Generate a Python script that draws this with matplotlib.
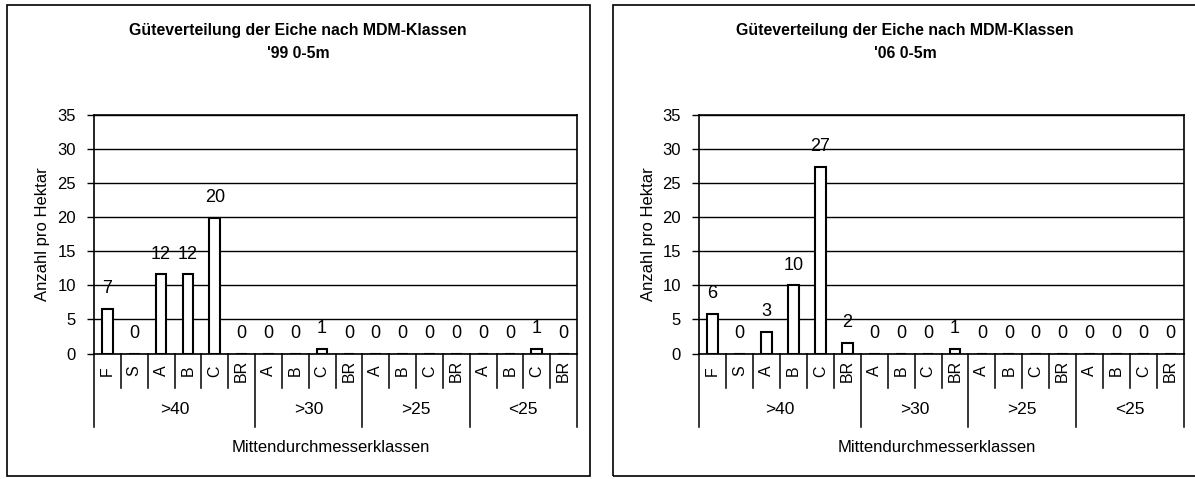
import numpy as np
import matplotlib
matplotlib.use('Agg')
import matplotlib.pyplot as plt
from matplotlib import font_manager
from matplotlib.patches import Rectangle

# Schriften: schmale Arial-Variante wenn vorhanden
names = {f.name for f in font_manager.fontManager.ttflist}
narrow = 'Liberation Sans Narrow' if 'Liberation Sans Narrow' in names else 'Liberation Sans'
plt.rcParams['font.family'] = [narrow, 'DejaVu Sans']

# Daten
title = 'Güteverteilung der Eiche nach MDM-Klassen'
subtitles = ["'99 0-5m", "'06 0-5m"]
groups = ['>40', '>30', '>25', '<25']
group_cats = [['F', 'S', 'A', 'B', 'C', 'BR'],
              ['A', 'B', 'C', 'BR'],
              ['A', 'B', 'C', 'BR'],
              ['A', 'B', 'C', 'BR']]
categories = [c for g in group_cats for c in g]

vals_99 = [6.6, 0, 11.6, 11.6, 19.9, 0,
           0, 0, 0.7, 0,
           0, 0, 0, 0,
           0, 0, 0.7, 0]
vals_06 = [5.8, 0, 3.2, 10.0, 27.4, 1.6,
           0, 0, 0, 0.7,
           0, 0, 0, 0,
           0, 0, 0, 0]

W, H = 1195, 479
fig = plt.figure(figsize=(W / 100, H / 100), dpi=100)


def fx(px):
    return px / W


def fy(py):
    return 1 - py / H


def panel(values, subtitle, ax_left, ax_right, box_l, box_r, title_x):
    # Rahmen um das Diagramm
    fig.patches.append(Rectangle((fx(box_l), fy(476)), fx(box_r - box_l), (476 - 5) / H,
                                 transform=fig.transFigure, fill=False,
                                 edgecolor='black', linewidth=1.2))
    fig.text(fx(title_x), fy(31), title, ha='center', va='center',
             fontsize=11.4, fontweight='bold', family=['Liberation Sans', 'DejaVu Sans'])
    fig.text(fx(title_x), fy(53), subtitle, ha='center', va='center',
             fontsize=11.4, fontweight='bold', family=['Liberation Sans', 'DejaVu Sans'])

    ax_h = 353.5 - 115
    ax = fig.add_axes([fx(ax_left), fy(353.5), fx(ax_right - ax_left), ax_h / H])
    x = np.arange(len(categories))
    ax.bar(x, values, width=0.4, color='white', edgecolor='black', linewidth=1.5, zorder=3)
    ax.set_xlim(-0.5, len(categories) - 0.5)
    ax.set_ylim(0, 35)
    ax.set_yticks(range(0, 36, 5))
    ax.yaxis.grid(True, color='black', linewidth=1)
    ax.set_axisbelow(True)
    for s in ax.spines.values():
        s.set_linewidth(1.2)
    ax.tick_params(axis='y', direction='out', length=5, width=1, labelsize=12, pad=8)
    ax.set_xticks([])

    for xi, v in zip(x, values):
        ax.annotate(f'{v:.0f}', (xi, v), xytext=(0, 20), textcoords='offset pixels',
                    ha='center', va='center', fontsize=13)

    # Kategorieachse (zweistufig)
    row1 = -(388 - 353.5) / ax_h
    row2 = -(427 - 353.5) / ax_h
    tr = ax.get_xaxis_transform()
    for xi, c in zip(x, categories):
        ax.text(xi, -(371 - 353.5) / ax_h, c, transform=tr, rotation=90,
                ha='center', va='center', fontsize=11.5)
    bounds = np.cumsum([0] + [len(g) for g in group_cats]) - 0.5
    for b in np.arange(-0.5, len(categories)):
        bottom = row2 if b in bounds else row1
        ax.plot([b, b], [0, bottom], transform=tr, color='black', lw=1.1, clip_on=False)
    for i, g in enumerate(groups):
        mid = (bounds[i] + bounds[i + 1]) / 2
        ax.text(mid, -(409 - 353.5) / ax_h, g, transform=tr,
                ha='center', va='center', fontsize=12.5)
    ax.text(0.49, -(447 - 353.5) / ax_h, 'Mittendurchmesserklassen', transform=ax.transAxes,
            ha='center', va='center', fontsize=12)
    ax.text(-51 / (ax_right - ax_left), 0.5, 'Anzahl pro Hektar', transform=ax.transAxes,
            rotation=90, ha='center', va='center', fontsize=12)
    return ax


panel(vals_99, subtitles[0], 94, 577, 7, 590, 298)
panel(vals_06, subtitles[1], 699, 1184, 613, 1200, 905)

fig.savefig('out.png', dpi=100)
